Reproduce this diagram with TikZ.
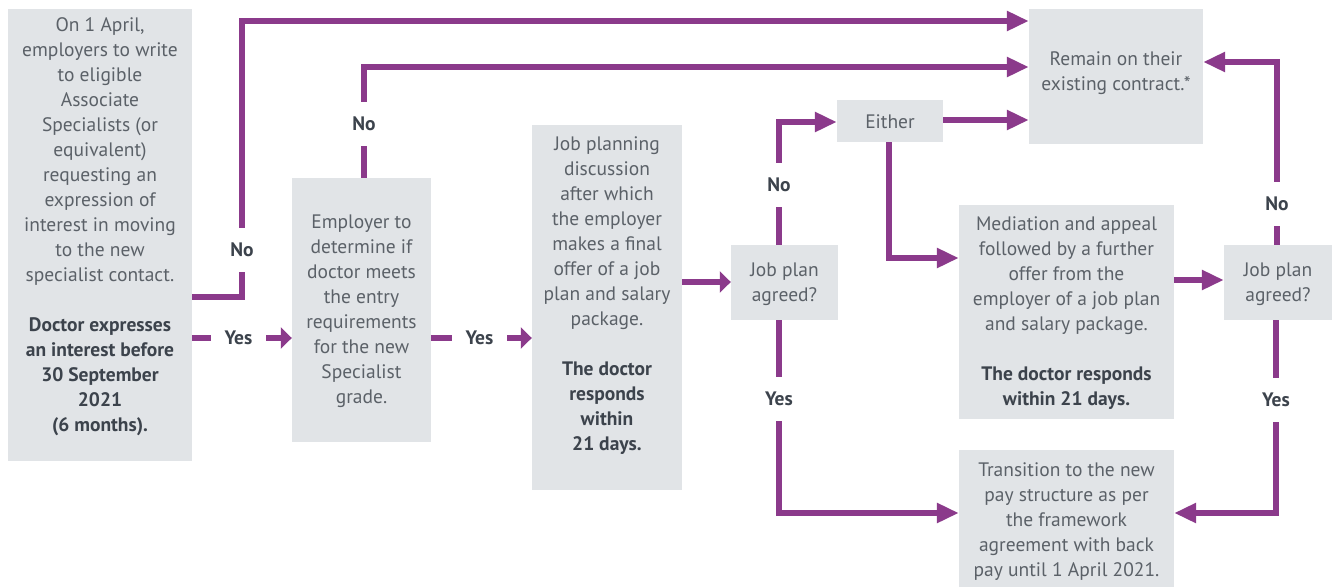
\documentclass[tikz,border=0pt]{standalone}
\usepackage{fontspec}
\setmainfont{PT Sans}
\usetikzlibrary{arrows.meta}
\definecolor{pur}{HTML}{8B3A8B}
\definecolor{boxg}{HTML}{E1E4E7}
\definecolor{txtg}{HTML}{5B6168}
\definecolor{txtd}{HTML}{3C434C}
\newcommand{\bd}[1]{{\color{txtd}\bfseries #1}}
\begin{document}
\begin{tikzpicture}[x=1pt,y=-1pt,
 box/.style={fill=boxg, draw=none, inner sep=0pt, anchor=center},
 txt/.style={text=txtg, align=center, font=\fontsize{19.5}{25}\selectfont, inner sep=0pt},
 lab/.style={text=txtd, font=\fontsize{19.5}{25}\selectfont\bfseries, inner sep=0pt},
 vlab/.style={lab, minimum height=44pt},
 hlab/.style={lab, minimum width=55pt},
 conn/.style={draw=pur, line width=6.5pt},
 arr/.style={conn, -{Triangle[length=22pt,width=19pt]}},
 sarr/.style={conn, -{Triangle[length=11pt,width=21pt]}},
]
\useasboundingbox (0,0) rectangle (1336,587);
% boxes
\node[box, minimum width=184pt, minimum height=452pt] (b1) at (100,235) {};
\node[box, minimum width=139pt, minimum height=264pt] (b2) at (361.5,310) {};
\node[box, minimum width=150pt, minimum height=365pt] (b3) at (607,307.5) {};
\node[box, minimum width=107pt, minimum height=75pt] (b4) at (784.5,282.5) {};
\node[box, minimum width=106pt, minimum height=42pt] (either) at (890,121) {};
\node[box, minimum width=174pt, minimum height=135pt] (remain) at (1116,76.5) {};
\node[box, minimum width=215pt, minimum height=214pt] (med) at (1066.5,312) {};
\node[box, minimum width=108pt, minimum height=75pt] (b5) at (1278,282.5) {};
\node[box, minimum width=215pt, minimum height=137pt] (trans) at (1066.5,518.5) {};
% texts
\node[txt] (t1) at (100,227) {On 1 April,\\ employers to write\\ to eligible\\ Associate\\ Specialists (or\\ equivalent)\\ requesting an\\ expression of\\ interest in moving\\ to the new\\ specialist contact.\\[25pt] \bd{Doctor expresses}\\ \bd{an interest before}\\ \bd{30 September}\\ \bd{2021}\\ \bd{(6 months).}};
\node[txt] (t2) at (361.5,311.5) {Employer to\\ determine if\\ doctor meets\\ the entry\\ requirements\\ for the new\\ Specialist\\ grade.};
\node[txt] (t3) at (607,296) {Job planning\\ discussion\\ after which\\ the employer\\ makes a final\\ offer of a job\\ plan and salary\\ package.\\[25pt] \bd{The doctor}\\ \bd{responds}\\ \bd{within}\\ \bd{21 days.}};
\node[txt] (t4) at (784.5,284.5) {Job plan\\ agreed?};
\node[txt] (teither) at (890,122) {Either};
\node[txt] (tremain) at (1116,73.5) {Remain on their\\ existing contract.*};
\node[txt] (tmed) at (1066.5,313.5) {Mediation and appeal\\ followed by a further\\ offer from the\\ employer of a job plan\\ and salary package.\\[25pt] \bd{The doctor responds}\\ \bd{within 21 days.}};
\node[txt] (t5) at (1278,284.5) {Job plan\\ agreed?};
\node[txt] (ttrans) at (1066.5,522) {Transition to the new\\ pay structure as per\\ the framework\\ agreement with back\\ pay until 1 April 2021.};
% labels
\node[vlab] (no1) at (242,250) {No};
\node[vlab] (no2) at (364,124) {No};
\node[hlab] (yes1) at (238.5,338) {Yes};
\node[hlab] (yes2) at (479.5,338) {Yes};
\node[vlab] (no3) at (779,185) {No};
\node[vlab] (yes3) at (779,399) {Yes};
\node[vlab] (no4) at (1277,204) {No};
\node[vlab] (yes4) at (1276,400) {Yes};
% turn points
\coordinate (c1a) at (242,297);
\coordinate (c1b) at (242,21);
\coordinate (c2) at (364,67);
\coordinate (c5) at (0,282);
\coordinate (c6) at (779,122);
\coordinate (c7) at (779,513);
\coordinate (c8) at (0,120);
\coordinate (c9) at (889,258);
\coordinate (c10) at (0,280);
\coordinate (c11) at (1277,62);
\coordinate (c12) at (1276,513);
% connectors
\draw[conn] (b1.east |- c1a) -- (c1a) -- (no1.south);
\draw[arr] (no1.north) -- (c1b) -- (remain.west |- c1b);
\draw[conn] (b2.north -| no2) -- (no2.south);
\draw[arr] (no2.north) -- (c2) -- (remain.west |- c2);
\draw[conn] (b1.east |- yes1) -- (yes1.west);
\draw[sarr] (yes1.east) -- (b2.west |- yes1);
\draw[conn] (b2.east |- yes2) -- (yes2.west);
\draw[sarr] (yes2.east) -- (b3.west |- yes2);
\draw[sarr] (b3.east |- c5) -- (b4.west |- c5);
\draw[conn] (b4.north -| no3) -- (no3.south);
\draw[arr] (no3.north) -- (c6) -- (either.west |- c6);
\draw[conn] (b4.south -| yes3) -- (yes3.north);
\draw[arr] (yes3.south) -- (c7) -- (trans.west |- c7);
\draw[arr] (either.east |- c8) -- (remain.west |- c8);
\draw[arr] (either.south -| c9) -- (c9) -- (med.west |- c9);
\draw[arr] (med.east |- c10) -- (b5.west |- c10);
\draw[conn] (b5.north -| no4) -- (no4.south);
\draw[arr] (no4.north) -- (c11) -- (remain.east |- c11);
\draw[conn] (b5.south -| yes4) -- (yes4.north);
\draw[arr] (yes4.south) -- (c12) -- (trans.east |- c12);
\end{tikzpicture}
\end{document}
